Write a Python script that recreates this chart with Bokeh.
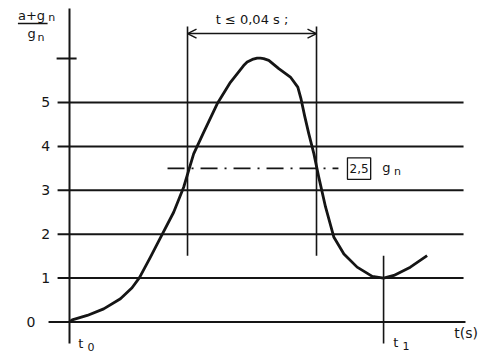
from bokeh.plotting import figure
from bokeh.models import Range1d, Arrow, OpenHead
from bokeh.core.properties import value
from bokeh.embed import file_html
from bokeh.resources import INLINE

# ---- data (time in ms from t0, value = (a+gn)/gn) ----
t_ms = [0, 0.84, 5.5, 10.6, 15.8, 19.4, 21.7, 25.1, 28.7, 32.3, 35.4, 38.5,
        41.6, 45.8, 49.9, 54.0, 55.1, 56.7, 58.2, 59.2, 60.2, 61.8, 64.9,
        68.5, 70.8, 71.8, 72.9, 74.2, 75.8, 77.3, 79.4, 82.0, 85.1, 89.2,
        93.9, 97.4, 100.6, 105.7, 110.9]
ratio = [0, 0.05, 0.15, 0.30, 0.53, 0.78, 1.01, 1.48, 1.99, 2.50, 3.07, 3.83,
         4.32, 4.97, 5.46, 5.84, 5.92, 5.98, 6.01, 6.01, 6.0, 5.96, 5.77,
         5.58, 5.35, 5.08, 4.70, 4.29, 3.83, 3.30, 2.62, 1.93, 1.55, 1.25,
         1.04, 1.0, 1.06, 1.25, 1.51]
grid_levels = [0, 1, 2, 3, 4, 5]
tick_labels = ["0", "1", "2", "3", "4", "5"]
top_tick = 6
pulse_start = 36.6
pulse_end = 76.6
t1 = 97.4
threshold = 3.5
threshold_label = "2,5"
interval_label = "t \u2264 0,04 s ;"

INK = "#151515"
FONT = value("DejaVu Sans")

p = figure(width=494, height=363, output_backend="svg", toolbar_location=None,
           x_range=Range1d(-21.4, 131.8), y_range=Range1d(-0.945, 7.323),
           min_border=0, min_border_left=0, min_border_right=0,
           min_border_top=0, min_border_bottom=0)
p.axis.visible = False
p.grid.visible = False
p.outline_line_color = None
p.background_fill_color = "white"
p.border_fill_color = "white"

# horizontal grid lines
for lv in grid_levels:
    x0 = -6.5 if lv == 0 else -3.7
    x1 = 122.8 if lv == 0 else 122.2
    p.segment(x0=[x0], y0=[lv], x1=[x1], y1=[lv], line_color=INK, line_width=2)

# vertical axis and top tick
p.segment(x0=[0], y0=[-0.49], x1=[0], y1=[7.14], line_color=INK, line_width=2)
p.segment(x0=[-4.0], y0=[top_tick], x1=[2.2], y1=[top_tick], line_color=INK, line_width=2)

# tick labels
for lv, lab in zip(grid_levels, tick_labels):
    xl = -10.6 if lv == 0 else -6.0
    p.text(x=[xl], y=[lv], text=[lab], text_font=FONT, text_font_size="14px",
           text_align="right", text_baseline="middle", text_color=INK)

# y axis title (a+gn)/gn
p.text(x=[-16.0], y=[6.99], text=["a+g"], text_font=FONT, text_font_size="13px",
       text_align="left", text_baseline="middle", text_color=INK)
p.text(x=[-6.6], y=[6.93], text=["n"], text_font=FONT, text_font_size="11px",
       text_align="left", text_baseline="middle", text_color=INK)
p.segment(x0=[-16.0], y0=[6.80], x1=[-6.8], y1=[6.80], line_color=INK, line_width=1.5)
p.text(x=[-13.0], y=[6.58], text=["g"], text_font=FONT, text_font_size="13px",
       text_align="left", text_baseline="middle", text_color=INK)
p.text(x=[-9.9], y=[6.48], text=["n"], text_font=FONT, text_font_size="11px",
       text_align="left", text_baseline="middle", text_color=INK)

# pulse duration markers
p.segment(x0=[pulse_start, pulse_end], y0=[1.51, 1.51], x1=[pulse_start, pulse_end],
          y1=[6.73, 6.73], line_color=INK, line_width=1.6)
p.add_layout(Arrow(start=OpenHead(size=9, line_color=INK, line_width=1.5),
                   end=OpenHead(size=9, line_color=INK, line_width=1.5),
                   x_start=pulse_start, y_start=6.57, x_end=pulse_end, y_end=6.57,
                   line_color=INK, line_width=1.5))
p.text(x=[(pulse_start + pulse_end) / 2], y=[6.9], text=[interval_label], text_font=FONT,
       text_font_size="13px", text_align="center", text_baseline="middle", text_color=INK)

# threshold dash-dot line with boxed label
p.segment(x0=[30.4], y0=[threshold], x1=[83.4], y1=[threshold], line_color=INK,
          line_width=1.6, line_dash="17 7 2 7")
p.quad(left=[86.2], right=[93.4], bottom=[3.25], top=[3.74], fill_color=None,
       line_color=INK, line_width=1.3)
p.text(x=[89.8], y=[threshold], text=[threshold_label], text_font=FONT, text_font_size="12px",
       text_align="center", text_baseline="middle", text_color=INK)
p.text(x=[97.0], y=[threshold + 0.03], text=["g"], text_font=FONT, text_font_size="13px",
       text_align="left", text_baseline="middle", text_color=INK)
p.text(x=[100.6], y=[threshold - 0.08], text=["n"], text_font=FONT, text_font_size="11px",
       text_align="left", text_baseline="middle", text_color=INK)

# t1 marker
p.segment(x0=[t1], y0=[-0.49], x1=[t1], y1=[1.51], line_color=INK, line_width=1.6)

# time labels
p.text(x=[2.7], y=[-0.48], text=["t"], text_font=FONT, text_font_size="13px",
       text_align="left", text_baseline="middle", text_color=INK)
p.text(x=[5.6], y=[-0.57], text=["0"], text_font=FONT, text_font_size="11px",
       text_align="left", text_baseline="middle", text_color=INK)
p.text(x=[100.4], y=[-0.46], text=["t"], text_font=FONT, text_font_size="13px",
       text_align="left", text_baseline="middle", text_color=INK)
p.text(x=[103.3], y=[-0.54], text=["1"], text_font=FONT, text_font_size="11px",
       text_align="left", text_baseline="middle", text_color=INK)
p.text(x=[119.3], y=[-0.26], text=["t(s)"], text_font=FONT, text_font_size="14px",
       text_align="left", text_baseline="middle", text_color=INK)

# acceleration pulse curve
p.line(t_ms, ratio, line_color=INK, line_width=2.8, line_join="round")

open("out.html", "w").write(file_html(p, INLINE))
